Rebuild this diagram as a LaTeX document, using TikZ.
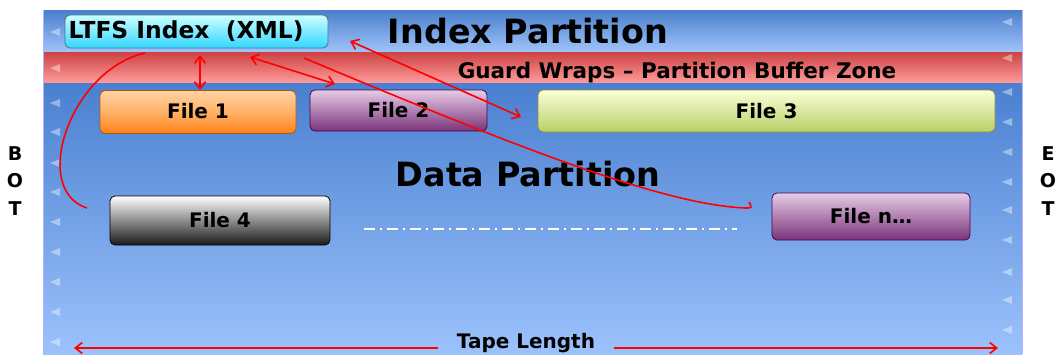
\documentclass[tikz,border=0pt]{standalone}
\usepackage{fontspec}
\setmainfont{DejaVu Sans}
\usetikzlibrary{arrows.meta}
\definecolor{bgtop}{HTML}{4A7FCC}
\definecolor{bgbot}{HTML}{A0C4FA}
\definecolor{redtop}{HTML}{CC4242}
\definecolor{redbot}{HTML}{FF9C9C}
\definecolor{datatop}{HTML}{4A80D0}
\definecolor{databot}{HTML}{9CC2FC}
\definecolor{linered}{HTML}{FF0000}
\definecolor{limetop}{HTML}{FAFFD8}
\definecolor{limemid}{HTML}{E2F8A0}
\definecolor{limebot}{HTML}{B8D068}
\tikzset{
  bigtext/.style={font=\bfseries\fontsize{33.4}{34}\selectfont, text=black},
  filetext/.style={font=\bfseries\fontsize{20}{21}\selectfont, text=black},
  filebox/.style={rounded corners=5pt, draw=#1, line width=0.8pt, filetext},
  orangebox/.style={filebox=orange!70!black, top color=orange!35!white, bottom color=orange!90!red!90!white, middle color=orange!60!white},
  purplebox/.style={filebox=violet!60!black, top color=violet!20!white, middle color=violet!40!white, bottom color=violet!70!black!80!white},
  limebox/.style={filebox=olive!60!gray, top color=limetop, middle color=limemid, bottom color=limebot},
  graybox/.style={filebox=black, top color=white, middle color=gray!60, bottom color=black!90},
  cyanbox/.style={filebox=cyan!50!black, top color=cyan!20!white, middle color=cyan!50!white, bottom color=cyan!80!blue!80!white},
  redline/.style={draw=linered, line width=1.6pt},
  redarr/.style={redline, arrows={Straight Barb[length=7pt,width=11pt]-Straight Barb[length=7pt,width=11pt]}},
  tri/.style={fill=white, opacity=0.4},
  sidetext/.style={font=\bfseries\fontsize{19}{27.5}\selectfont, align=center, text=black},
}
\begin{document}
\begin{tikzpicture}[x=1pt,y=-1pt]
\useasboundingbox (0,0) rectangle (1056,354);
\fill[white] (0,0) rectangle (1056,354);
% background bands
\shade[top color=bgtop, bottom color=bgbot] (43,10) rectangle (1022,52);
\shade[top color=redtop, bottom color=redbot] (43,52) rectangle (1022,83);
\draw[red!60!black!60!white, line width=0.6pt] (43,83) -- (1022,83);
\shade[top color=datatop, bottom color=databot] (43,83) rectangle (1022,354);
\draw[blue!30!white, line width=0.8pt] (43,10) -- (43,354);
\draw[blue!30!white, line width=0.8pt] (1022,10) -- (1022,354);
% small triangles
\foreach \yy in {32,68,103,132,163,192,222,252,282,312,342}
  \fill[tri] (50,\yy) -- (60,\yy-4) -- (60,\yy+4) -- cycle;
\foreach \yy in {22,58,92,122,152,182,210,240,272,300,330}
  \fill[tri] (1002,\yy) -- (1012,\yy-4) -- (1012,\yy+4) -- cycle;
% titles
\node[bigtext] (ip) at (528,31) {Index Partition};
\node[bigtext] (dp) at (528,174) {Data Partition};
\node[font=\bfseries\fontsize{21.5}{22}\selectfont] (gw) at (677,73) {Guard Wraps -- Partition Buffer Zone};
% boxes
\node[cyanbox, minimum width=263pt, minimum height=33pt] (ltfs) at (196.5,31.5) {};
\node[font=\bfseries\fontsize{23.4}{24}\selectfont, text=black] (ltfst) at (186,31) {LTFS Index\ \ (XML)};
\node[orangebox, minimum width=196pt, minimum height=43pt] (f1) at (198,112) {\raisebox{3pt}{File 1}};
\node[purplebox, minimum width=177pt, minimum height=41pt] (f2) at (398.5,110.5) {File 2};
\node[limebox, minimum width=457pt, minimum height=42pt] (f3) at (766.5,111) {File 3};
\node[graybox, minimum width=220pt, minimum height=49pt] (f4) at (220,220.5) {File 4};
\node[purplebox, minimum width=198pt, minimum height=47pt] (fn) at (871,216.5) {File n\ldots};
% dash-dot line
\coordinate (dl) at (364,229);
\coordinate (dr) at (737,229);
\draw[white, line width=1.3pt, dash pattern=on 11pt off 5pt on 2pt off 5pt] (dl) -- (dr);
% BOT / EOT
\node[sidetext] (bot) at (15,181) {B\\O\\T};
\node[sidetext] (eot) at (1048,181) {E\\O\\T};
% red connectors
\coordinate (a1s) at (200,55);
\coordinate (a1e) at (200,90);
\draw[redarr] (a1s) -- (a1e);
\coordinate (a2s) at (250,57);
\coordinate (a2e) at (335,84);
\draw[redarr] (a2s) -- (a2e);
\coordinate (a3s) at (350,41);
\coordinate (a3e) at (521,117);
\draw[redarr] (a3s) -- (a3e);
\coordinate (c4s) at (304,58);
\coordinate (c4e) at (746,208);
\coordinate (c4h) at (749,202);
\draw[redline] (c4s) .. controls (500,140) and (660,205) .. (c4e) .. controls (752,208) .. (c4h);
\coordinate (c5s) at (145,53);
\coordinate (c5e) at (87,208);
\draw[redline] (c5s) .. controls (70,70) and (30,190) .. (c5e);
% tape length
\node[anchor=base, inner xsep=19pt, font=\bfseries\fontsize{20}{21}\selectfont] (tl) at (526,348.5) {Tape Length};
\coordinate (tapeL) at (74,348);
\coordinate (tapeR) at (998,348);
\draw[redline, -{Straight Barb[length=7pt,width=11pt]}] (tl.west |- tapeL) -- (tapeL);
\draw[redline, -{Straight Barb[length=7pt,width=11pt]}] (tl.east |- tapeR) -- (tapeR);
\end{tikzpicture}
\end{document}
